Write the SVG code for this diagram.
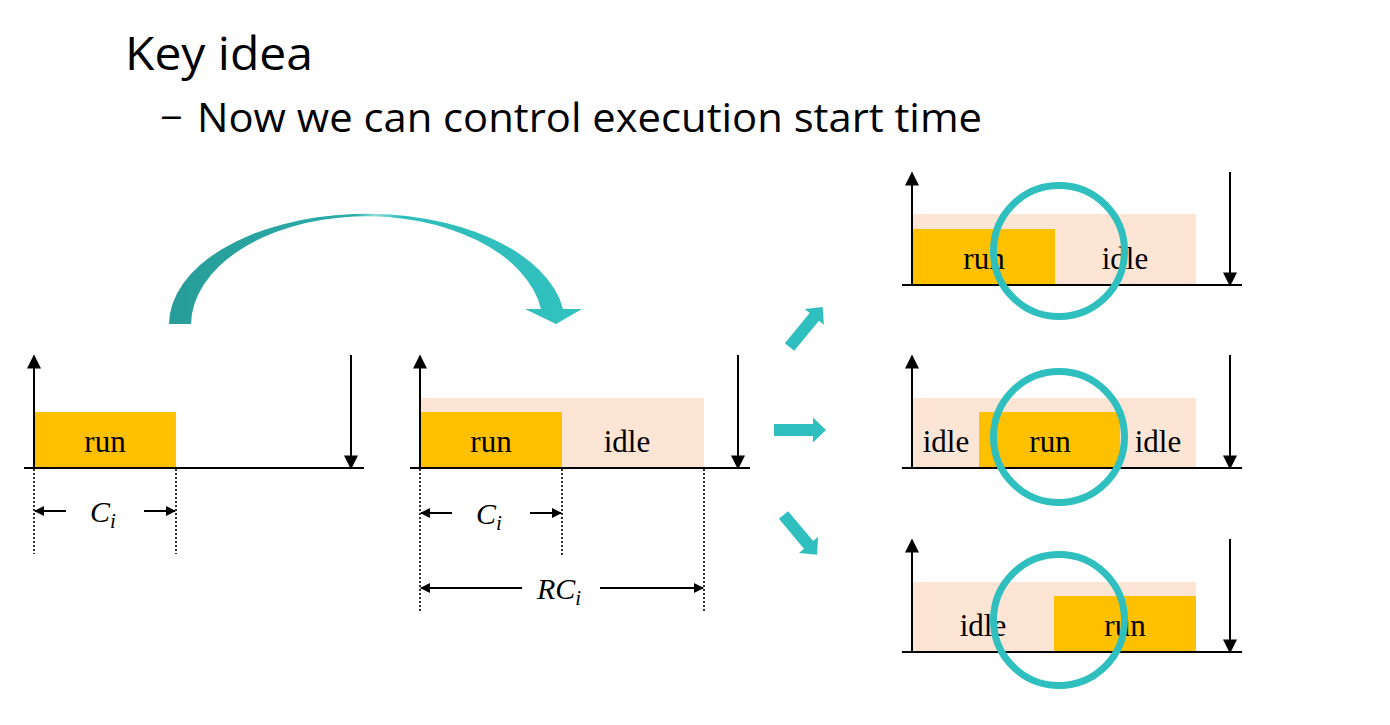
<svg xmlns="http://www.w3.org/2000/svg" width="1390" height="725" viewBox="0 0 1390 725">
<defs>
<style>
.ax{stroke:#000;stroke-width:2;fill:none}
.dot{stroke:#000;stroke-width:1.6;stroke-dasharray:2 2;fill:none}
.run{fill:#FFC000}
.idle{fill:#FDE5D5}
.lbl{font-family:"Liberation Serif","DejaVu Serif",serif;font-size:31px;fill:#000;text-anchor:middle}
.math{font-family:"Liberation Serif","DejaVu Serif",serif;font-style:italic;font-size:30px;fill:#000}
.ring{fill:none;stroke:#2FBFBE;stroke-width:7}
.teal{fill:#2FBFBE}
.hd{font-family:"Open Sans","Liberation Sans",sans-serif;fill:#000}
</style>
<marker id="ah2" viewBox="0 0 10 10" refX="9" refY="5" markerWidth="16" markerHeight="14" markerUnits="userSpaceOnUse" orient="auto">
<path d="M0,0 L10,5 L0,10 Z" fill="#000"/>
</marker>
<marker id="ds" viewBox="0 0 10 10" refX="9" refY="5" markerWidth="10" markerHeight="10" markerUnits="userSpaceOnUse" orient="auto">
<path d="M0,0 L10,5 L0,10 Z" fill="#000"/>
</marker>
<linearGradient id="cg" x1="169" y1="0" x2="582" y2="0" gradientUnits="userSpaceOnUse">
<stop offset="0" stop-color="#279C98"/>
<stop offset="0.45" stop-color="#2BADA9"/>
<stop offset="0.5" stop-color="#8FDCDA"/>
<stop offset="0.56" stop-color="#30BDBB"/>
<stop offset="1" stop-color="#31C1BF"/>
</linearGradient>
<path id="blk" d="M0,-6 L39,-6 L39,-12.5 L52,0 L39,12.5 L39,6 L0,6 Z"/>
</defs>

<g id="title">
<text class="hd" x="125" y="70" font-size="46" textLength="188" lengthAdjust="spacingAndGlyphs">Key idea</text>
<text class="hd" x="160" y="132" font-size="40">−</text>
<text class="hd" x="197" y="132" font-size="40" textLength="785" lengthAdjust="spacingAndGlyphs">Now we can control execution start time</text>
</g>

<g id="chart-original">
<rect class="run" x="34" y="412" width="142" height="56"/>
<text class="lbl" x="105" y="452">run</text>
<line class="ax" x1="34" y1="468" x2="34" y2="356" marker-end="url(#ah2)"/>
<line class="ax" x1="24" y1="468" x2="364" y2="468"/>
<line class="ax" x1="351" y1="355" x2="351" y2="468" marker-end="url(#ah2)"/>
<line class="dot" x1="34" y1="469" x2="34" y2="554"/>
<line class="dot" x1="176" y1="469" x2="176" y2="554"/>
<line class="ax" x1="66" y1="511" x2="35" y2="511" marker-end="url(#ds)"/>
<line class="ax" x1="144" y1="511" x2="175" y2="511" marker-end="url(#ds)"/>
<text class="math" x="90" y="522">C<tspan font-size="21" dy="6">i</tspan></text>
</g>

<g id="chart-reserved">
<rect class="idle" x="420" y="398" width="284" height="70"/>
<rect class="run" x="420" y="412" width="142" height="56"/>
<text class="lbl" x="491" y="452">run</text>
<text class="lbl" x="627" y="452">idle</text>
<line class="ax" x1="420" y1="468" x2="420" y2="356" marker-end="url(#ah2)"/>
<line class="ax" x1="410" y1="468" x2="750" y2="468"/>
<line class="ax" x1="738" y1="355" x2="738" y2="468" marker-end="url(#ah2)"/>
<line class="dot" x1="420" y1="469" x2="420" y2="612"/>
<line class="dot" x1="562" y1="469" x2="562" y2="556"/>
<line class="dot" x1="704" y1="469" x2="704" y2="612"/>
<line class="ax" x1="452" y1="513" x2="421" y2="513" marker-end="url(#ds)"/>
<line class="ax" x1="530" y1="513" x2="561" y2="513" marker-end="url(#ds)"/>
<text class="math" x="476" y="524">C<tspan font-size="21" dy="6">i</tspan></text>
<line class="ax" x1="522" y1="588" x2="421" y2="588" marker-end="url(#ds)"/>
<line class="ax" x1="600" y1="588" x2="703" y2="588" marker-end="url(#ds)"/>
<text class="math" x="537" y="599">RC<tspan font-size="21" dy="6">i</tspan></text>
</g>

<g id="chart-early">
<rect class="idle" x="913" y="214" width="283" height="71"/>
<rect class="run" x="913" y="229" width="142" height="56"/>
<text class="lbl" x="984" y="269">run</text>
<text class="lbl" x="1125" y="269">idle</text>
<line class="ax" x1="912" y1="285" x2="912" y2="173" marker-end="url(#ah2)"/>
<line class="ax" x1="902" y1="285" x2="1242" y2="285"/>
<line class="ax" x1="1230" y1="172" x2="1230" y2="285" marker-end="url(#ah2)"/>
<circle class="ring" cx="1059" cy="251" r="65.5"/>
</g>

<g id="chart-middle">
<rect class="idle" x="913" y="398" width="283" height="70"/>
<rect class="run" x="979" y="412" width="141" height="56"/>
<text class="lbl" x="946" y="452">idle</text>
<text class="lbl" x="1050" y="452">run</text>
<text class="lbl" x="1158" y="452">idle</text>
<line class="ax" x1="912" y1="468" x2="912" y2="356" marker-end="url(#ah2)"/>
<line class="ax" x1="902" y1="468" x2="1242" y2="468"/>
<line class="ax" x1="1230" y1="355" x2="1230" y2="468" marker-end="url(#ah2)"/>
<circle class="ring" cx="1059" cy="437" r="65.5"/>
</g>

<g id="chart-late">
<rect class="idle" x="913" y="582" width="283" height="70"/>
<rect class="run" x="1054" y="596" width="142" height="56"/>
<text class="lbl" x="983" y="636">idle</text>
<text class="lbl" x="1125" y="636">run</text>
<line class="ax" x1="912" y1="652" x2="912" y2="540" marker-end="url(#ah2)"/>
<line class="ax" x1="902" y1="652" x2="1242" y2="652"/>
<line class="ax" x1="1230" y1="539" x2="1230" y2="652" marker-end="url(#ah2)"/>
<circle class="ring" cx="1059" cy="620" r="65.5"/>
</g>

<g id="connectors">
<path fill="url(#cg)" d="M169,324 A198,111 0 0 1 563,309 L582,309 L556,324 L525,309 L541,309 A176,109 0 0 0 191,324 Z"/>
<use href="#blk" class="teal" transform="translate(789.5,347) rotate(-50.5)"/>
<use href="#blk" class="teal" transform="translate(774,430)"/>
<use href="#blk" class="teal" transform="translate(783.5,515) rotate(50)"/>
</g>
</svg>
